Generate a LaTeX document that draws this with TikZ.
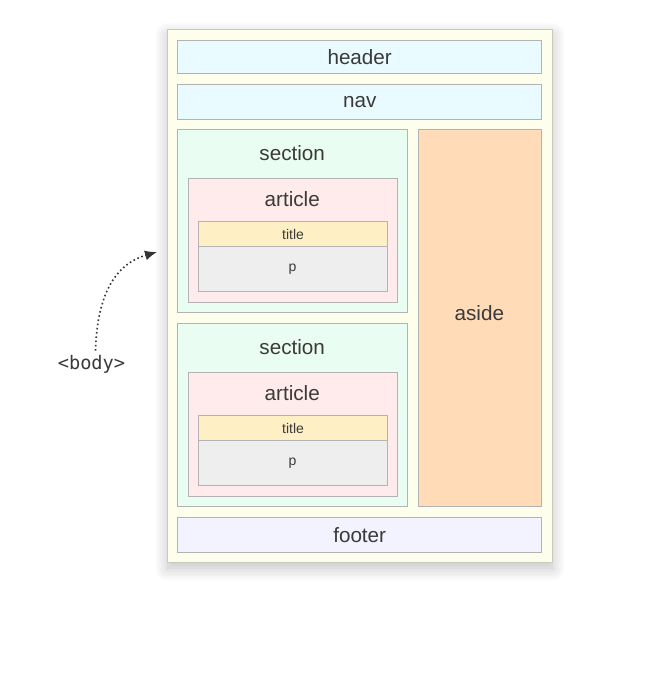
\documentclass[tikz,border=0pt]{standalone}
\usepackage{fontspec}
\setmainfont{Liberation Sans}
\newfontfamily\monofont{DejaVu Sans Mono}
\usetikzlibrary{shadows.blur,arrows.meta}
\definecolor{bodyfill}{HTML}{FEFEEC}
\definecolor{bodyline}{HTML}{C9C9BE}
\definecolor{hdrfill}{HTML}{E9FBFF}
\definecolor{secfill}{HTML}{EAFDF2}
\definecolor{artfill}{HTML}{FFEBEB}
\definecolor{ttlfill}{HTML}{FFEFC4}
\definecolor{pfill}{HTML}{EEEEEE}
\definecolor{asidefill}{HTML}{FFDBB8}
\definecolor{footfill}{HTML}{F3F3FF}
\definecolor{boxline}{HTML}{B3B3B3}
\definecolor{txt}{HTML}{3A3A3A}
\tikzset{
  bx/.style={draw=boxline, line width=0.8pt, anchor=north west, inner sep=0pt, text=txt, font=\fontsize{15.5}{18}\selectfont},
  lbl/.style={text=txt, inner sep=0pt, font=\fontsize{15.5}{18}\selectfont},
  small/.style={font=\fontsize{10.5}{12}\selectfont},
}
\newcommand{\W}[1]{#1*0.75pt}
\begin{document}
\begin{tikzpicture}[x=0.75pt,y=-0.75pt]
\useasboundingbox (0,0) rectangle (647,692);
% body
\node[draw=bodyline, fill=bodyfill, line width=0.8pt, anchor=north west, inner sep=0pt,
  minimum width=\W{384.4}, minimum height=\W{533},
  blur shadow={shadow xshift=0pt, shadow yshift=-4pt, shadow blur radius=10pt, shadow opacity=25, shadow blur steps=14}]
  (body) at (167.3,29.3) {};
\node[bx, fill=hdrfill, minimum width=\W{363.7}, minimum height=\W{33.3}] (header) at (177.3,40) {header};
\node[bx, fill=hdrfill, minimum width=\W{363.7}, minimum height=\W{34.4}] (nav) at (177.3,84.3) {nav};
\node[bx, fill=asidefill, minimum width=\W{123.3}, minimum height=\W{376.7}] (aside) at (417.7,129.3) {};
\node[lbl] (asidetxt) at (479.3,313.5) {aside};
\node[bx, fill=footfill, minimum width=\W{363.7}, minimum height=\W{34.4}] (footer) at (177.3,517.3) {footer};
% sections
\foreach \i/\d in {1/0,2/194}{
  \node[bx, fill=secfill, minimum width=\W{229.7}, minimum height=\W{182.4}] (sec\i) at (177.3,129.3+\d) {};
  \node[lbl] (sectxt\i) at (292.2,153.5+\d) {section};
  \node[bx, fill=artfill, minimum width=\W{209}, minimum height=\W{123.4}] (art\i) at (187.7,178.3+\d) {};
  \node[lbl] (arttxt\i) at (292.2,199.5+\d) {article};
  \node[bx, small, fill=ttlfill, minimum width=\W{188.4}, minimum height=\W{25}] (title\i) at (198.3,221.3+\d) {title};
  \node[bx, small, fill=pfill, minimum width=\W{188.4}, minimum height=\W{44.7}] (p\i) at (198.3,246.3+\d) {};
  \node[lbl, small] (ptxt\i) at (292.5,269+\d) {p};
}
% body label and arrow
\node[text=txt, inner sep=0pt, font=\monofont\fontsize{14}{16}\selectfont] (bodylbl) at (91.5,364) {<body>};
\coordinate (tip) at (157,252);
\draw[txt!90!black, line width=1.2pt, dotted, -{Latex[length=9pt,width=7.5pt]}]
  ([xshift=3pt,yshift=3pt]bodylbl.north) .. controls (97,300) and (112,265) .. (tip);
\end{tikzpicture}
\end{document}
